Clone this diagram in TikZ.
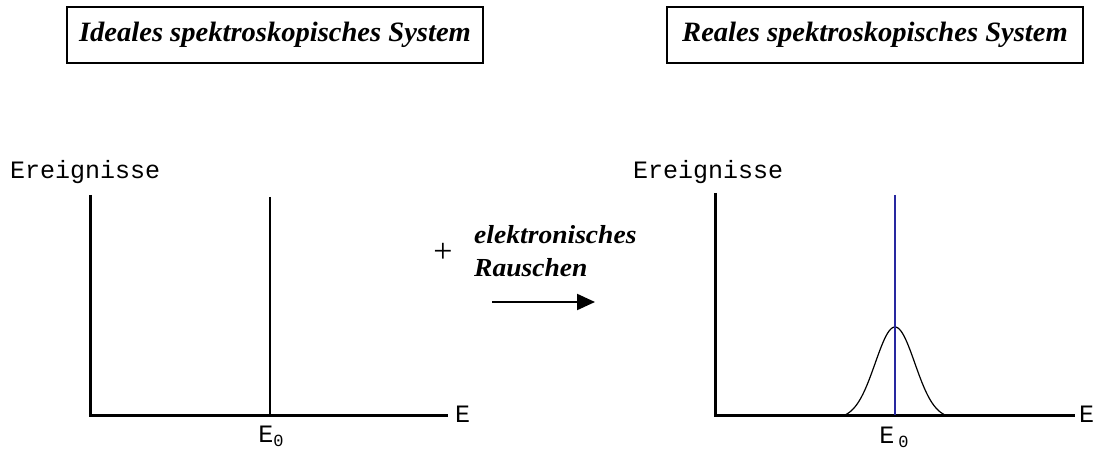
\documentclass[tikz,border=0pt]{standalone}
\usepackage{fontspec}
\setmainfont{Liberation Serif}
\setmonofont{Liberation Mono}
\newfontfamily\titlefont[FakeStretch=1.02]{Liberation Serif}
\newfontfamily\noisefont[FakeStretch=1.06]{Liberation Serif}
\usetikzlibrary{positioning}
\usetikzlibrary{arrows.meta}

\definecolor{peakblue}{RGB}{40,40,160}

\tikzset{
    titlebox/.style={draw, line width=1.4pt, minimum width=416pt, minimum height=56pt,
        inner sep=0pt, font=\titlefont\fontsize{28}{32}\selectfont\bfseries\itshape},
    axis/.style={line width=3pt, line join=miter},
    axlabel/.style={inner sep=0pt, font=\ttfamily\fontsize{25}{28}\selectfont},
    noiselabel/.style={inner sep=0pt, align=left,
        font=\noisefont\fontsize{26}{33}\selectfont\bfseries\itshape},
}

\newcommand{\Ezero}[1]{E\hspace{#1}\raisebox{-4pt}{\fontsize{17}{17}\selectfont 0}}

\begin{document}
\begin{tikzpicture}[x=1pt, y=-1pt]
    \useasboundingbox (0,0) rectangle (1098,449);

    % titles
    \node[titlebox] (ideal) at (275,35) {Ideales spektroskopisches System};
    \node[titlebox] (real) at (875,35) {Reales spektroskopisches System};

    % left spectrum
    \coordinate (lo) at (90,415);
    \coordinate (ltop) at (90,195);
    \coordinate (lend) at (448,415);
    \coordinate (lpeak) at (270,197);
    \coordinate (lbase) at (270,415);
    \node[axlabel, anchor=west] (lcount) at (10,172) {Ereignisse};
    \node[axlabel, anchor=west] (lenergy) at (455,414) {E};
    \node[axlabel] (lzero) at (271,436) {\Ezero{0pt}};

    \draw[axis] (ltop) -- (lo) -- (lend);
    \draw[line width=1.5pt] (lpeak) -- (lbase);

    % noise
    \node[inner sep=0pt, font=\fontsize{34}{34}\selectfont] (plus) at (443,253) {+};
    \node[noiselabel, anchor=west] (noise) at (474,251) {elektronisches\\Rauschen};
    \coordinate (arrs) at (492,302);
    \coordinate (arre) at (595,302);
    \draw[line width=2.2pt, -{Triangle[length=18pt, width=16pt]}] (arrs) -- (arre);

    % right spectrum
    \coordinate (ro) at (715,415);
    \coordinate (rtop) at (715,193);
    \coordinate (rend) at (1075,415);
    \coordinate (rpeak) at (895,195);
    \coordinate (rbase) at (895,415);
    \node[axlabel, anchor=west] (rcount) at (633,172) {Ereignisse};
    \node[axlabel, anchor=west] (renergy) at (1079,414) {E};
    \node[axlabel] (rzero) at (894,437) {\Ezero{4pt}};

    \draw[axis] (rtop) -- (ro) -- (rend);
    \draw[line width=1.2pt] plot[domain=845:945, samples=80, smooth]
        (\x, {415-88*(exp(-((\x-895)/28)^2)-0.041)/0.959});
    \draw[peakblue, line width=1.4pt] (rpeak) -- (rbase);
\end{tikzpicture}
\end{document}
